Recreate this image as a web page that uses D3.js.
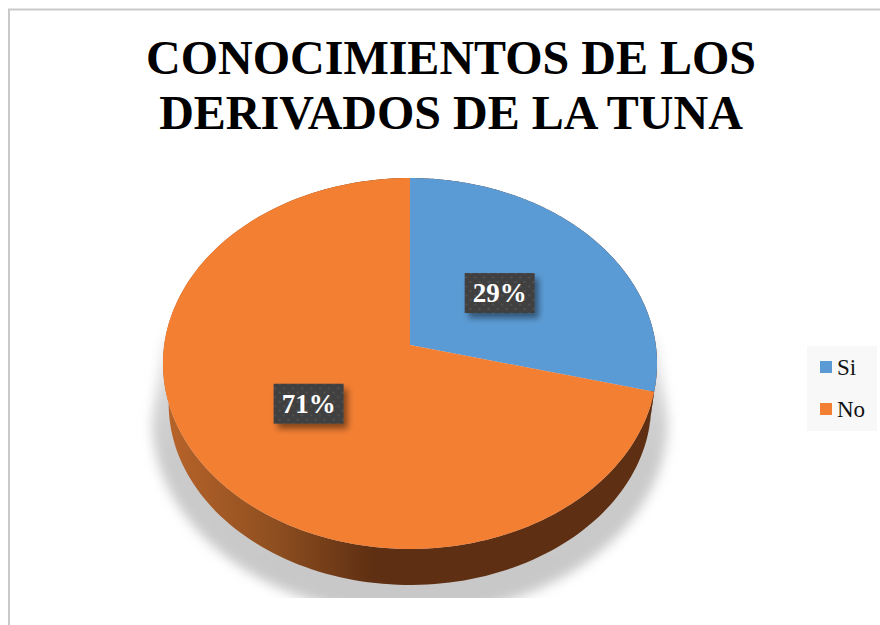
<!DOCTYPE html>
<html>
<head>
<meta charset="utf-8">
<script src="https://cdn.jsdelivr.net/npm/d3@7/dist/d3.min.js"></script>
<style>
html,body{margin:0;padding:0;background:#fff;overflow:hidden}
svg{display:block}
text{font-family:"Liberation Serif",serif}
</style>
</head>
<body>
<svg id="chart" width="880" height="625"></svg>
<script>
const titleLines = ["CONOCIMIENTOS DE LOS", "DERIVADOS DE LA TUNA"];
const categories = ["Si", "No"];
const shares = [29, 71];
const colours = ["#5b9bd5", "#f37f33"];
const valueLabels = ["29%", "71%"];

const svg = d3.select("#chart");
const defs = svg.append("defs");

// Tilted disc: a unit circle seen in perspective, hub at (cx, hubY)
const cx = 410, hubY = 345;
const persp = -0.0997, radiusX = 245.8, radiusY = 183.6;
const depth = 40.3, depthScale = 0.977;

function project(angle, lowered) {
  const u = Math.sin(angle), v = -Math.cos(angle);
  const w = 1 + persp * v;
  const x = radiusX * u / w, y = radiusY * v / w;
  if (!lowered) return [cx + x, hubY + y];
  return [cx + x * depthScale, hubY + 18.5 + (y - 18.5) * depthScale + depth];
}

const pieLayout = d3.pie().sort(null).value(d => d).startAngle(0).endAngle(2 * Math.PI);
const slices = pieLayout(shares);
const rim = d3.scaleLinear().domain([0, 1]);
const line = d3.line();

function samples(a0, a1) {
  rim.range([a0, a1]);
  return d3.range(0, 1.0001, 1 / 160).map(t => rim(t));
}

// Gradients, shadow blur and dotted label fill
const wallGrad = defs.append("linearGradient")
  .attr("id", "wallGrad").attr("gradientUnits", "userSpaceOnUse")
  .attr("x1", 165).attr("x2", 660).attr("y1", 0).attr("y2", 0);
[[0, "#b8642a"], [0.22, "#8f4f20"], [0.42, "#5e2f12"], [1, "#5e2f12"]]
  .forEach(([o, c]) => wallGrad.append("stop").attr("offset", o).attr("stop-color", c));

const shadowFade = defs.append("linearGradient")
  .attr("id", "shadowFade").attr("x1", 0).attr("x2", 0).attr("y1", 0).attr("y2", 1);
[[0, "#efefef"], [0.25, "#d2d2d2"], [0.45, "#cacaca"], [1, "#c8c8c8"]]
  .forEach(([o, c]) => shadowFade.append("stop").attr("offset", o).attr("stop-color", c));

defs.append("filter").attr("id", "soft")
  .attr("x", "-10%").attr("y", "-10%").attr("width", "120%").attr("height", "120%")
  .append("feGaussianBlur").attr("stdDeviation", 6);

const labelShadow = defs.append("filter").attr("id", "labelShadow")
  .attr("x", "-20%").attr("y", "-30%").attr("width", "150%").attr("height", "170%");
labelShadow.append("feDropShadow").attr("dx", 4).attr("dy", 5)
  .attr("stdDeviation", 3).attr("flood-color", "#000").attr("flood-opacity", 0.45);

const dots = defs.append("pattern").attr("id", "dots")
  .attr("patternUnits", "userSpaceOnUse").attr("width", 9).attr("height", 9);
dots.append("rect").attr("width", 9).attr("height", 9).attr("fill", "#404040");
dots.append("circle").attr("cx", 2.5).attr("cy", 2.5).attr("r", 1.1).attr("fill", "#555555");
dots.append("circle").attr("cx", 7).attr("cy", 7).attr("r", 1.1).attr("fill", "#555555");

defs.append("clipPath").attr("id", "plotClip")
  .append("rect").attr("x", 0).attr("y", 0).attr("width", 880).attr("height", 598);

// Chart frame: only the top and left edges fall inside the window
svg.append("path").attr("d", "M9,625V9.5H880")
  .attr("fill", "none").attr("stroke", "#c9c9c9").attr("stroke-width", 2);

// Title
svg.append("g").selectAll("text").data(titleLines).join("text")
  .attr("x", 451).attr("y", (d, i) => 74 + i * 55)
  .attr("text-anchor", "middle").attr("font-size", 48).attr("font-weight", 700)
  .attr("fill", "#000").text(d => d);

// Ground shadow: lower half-ellipse with narrow wedges rising behind the disc,
// cut off by the plot area along the bottom
const shadowCy = 420, shadowRx = 258, shadowRy = 195;
const shadowPts = samples(Math.PI * 0.5, Math.PI * 1.5)
  .map(a => [cx + shadowRx * Math.sin(a), shadowCy - shadowRy * Math.cos(a)]);
const shadowTop = [[cx - radiusX, hubY - 10], [cx + radiusX, hubY - 10]];
svg.append("g").attr("clip-path", "url(#plotClip)")
  .append("path")
  .attr("d", line([shadowTop[1], ...shadowPts, shadowTop[0]]) + "Z")
  .attr("fill", "url(#shadowFade)").attr("filter", "url(#soft)");

// Side wall below each slice's rim
svg.append("g").selectAll("path").data(slices).join("path")
  .attr("d", d => {
    const as = samples(d.startAngle, d.endAngle);
    return line([...as.map(a => project(a, false)), ...as.slice().reverse().map(a => project(a, true))]) + "Z";
  })
  .attr("fill", "url(#wallGrad)");

// Top face of the disc
svg.append("g").selectAll("path").data(slices).join("path")
  .attr("d", d => line([[cx, hubY], ...samples(d.startAngle, d.endAngle).map(a => project(a, false))]) + "Z")
  .attr("fill", (d, i) => colours[i]);

// Value labels sit halfway along each slice's mid-angle
const labelW = 70, labelH = 40;
const labelCentres = slices.map(d => {
  const mid = (d.startAngle + d.endAngle) / 2;
  const [x, y] = project(mid, false);
  return [cx + (x - cx) * 0.49, hubY + (y - hubY) * 0.49];
});
const lab = svg.append("g").selectAll("g").data(slices).join("g")
  .attr("transform", (d, i) => `translate(${labelCentres[i][0]},${labelCentres[i][1]})`);
lab.append("rect").attr("x", -labelW / 2).attr("y", -labelH / 2)
  .attr("width", labelW).attr("height", labelH)
  .attr("fill", "url(#dots)").attr("filter", "url(#labelShadow)");
lab.append("text").attr("text-anchor", "middle").attr("y", 9)
  .attr("font-size", 27).attr("font-weight", 700).attr("fill", "#fff")
  .text((d, i) => valueLabels[i]);

// Legend
const legend = svg.append("g");
legend.append("rect").attr("x", 807).attr("y", 346).attr("width", 70).attr("height", 85).attr("fill", "#f8f8f8");
const rowY = d3.scalePoint().domain(categories).range([367, 409]);
const rows = legend.selectAll("g").data(categories).join("g")
  .attr("transform", d => `translate(820,${rowY(d)})`);
rows.append("rect").attr("y", -6).attr("width", 12).attr("height", 12)
  .attr("fill", (d, i) => colours[i]);
rows.append("text").attr("x", 17).attr("y", 8).attr("font-size", 23).attr("fill", "#111").text(d => d);
</script>
</body>
</html>
